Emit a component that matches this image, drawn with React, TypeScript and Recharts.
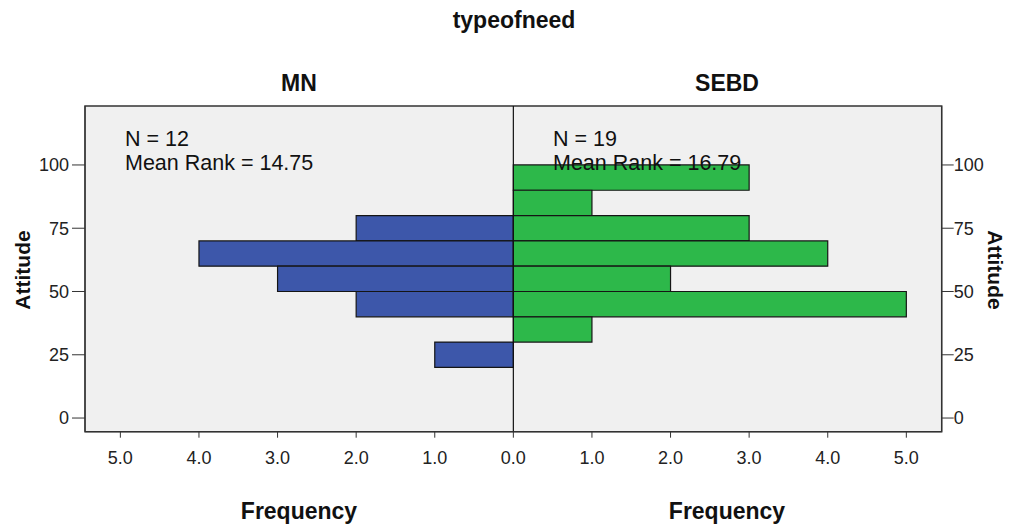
import React from 'react';
import { BarChart, Bar, XAxis, YAxis, ReferenceArea, ReferenceLine } from 'recharts';

const bins = [95, 85, 75, 65, 55, 45, 35, 25];
const mnCounts = [0, 0, 2, 4, 3, 2, 0, 1];
const sebdCounts = [3, 1, 3, 4, 2, 5, 1, 0];
const xTicks = [-5, -4, -3, -2, -1, 0, 1, 2, 3, 4, 5];
const yTicks = [0, 25, 50, 75, 100];
const groupNames = ['MN', 'SEBD'];
const groupN = [12, 19];
const groupMeanRank = ['14.75', '16.79'];
const title = 'typeofneed';
const xTitle = 'Frequency';
const yTitle = 'Attitude';

const data = bins.map((bin, i) => ({ bin, mn: -mnCounts[i], sebd: sebdCounts[i] }));

const X_DOMAIN: [number, number] = [-5.45, 5.45];
const Y_DOMAIN: [number, number] = [-5.4, 123.3];
const FONT = "'Liberation Sans', Arial, sans-serif";
const AXIS = '#333333';

export default function App() {
  const tickStyle = { fontSize: 18, fill: '#222', fontFamily: FONT };
  return (
    <div style={{ position: 'absolute', left: 0, top: 0, width: 1009, height: 527, background: '#fff' }}>
      <BarChart
        width={1009}
        height={527}
        data={data}
        layout="vertical"
        stackOffset="sign"
        margin={{ top: 106, left: 25, right: 7.3, bottom: 65.3 }}
      >
        <XAxis
          type="number"
          domain={X_DOMAIN}
          allowDataOverflow
          ticks={xTicks}
          interval={0}
          tickFormatter={(v: number) => Math.abs(v).toFixed(1)}
          tickSize={6}
          tickMargin={14}
          height={30}
          stroke={AXIS}
          tick={tickStyle}
        />
        <YAxis
          yAxisId="l"
          type="number"
          dataKey="bin"
          domain={Y_DOMAIN}
          allowDataOverflow
          reversed
          ticks={yTicks}
          interval={0}
          tickSize={13}
          tickMargin={3}
          width={60}
          stroke={AXIS}
          tick={tickStyle}
        />
        <YAxis
          yAxisId="r"
          orientation="right"
          type="number"
          dataKey="bin"
          domain={Y_DOMAIN}
          allowDataOverflow
          reversed
          ticks={yTicks}
          interval={0}
          tickSize={12}
          tickMargin={0}
          width={60}
          stroke={AXIS}
          tick={tickStyle}
        />
        <ReferenceArea
          yAxisId="l"
          x1={X_DOMAIN[0]}
          x2={X_DOMAIN[1]}
          y1={Y_DOMAIN[0]}
          y2={Y_DOMAIN[1]}
          fill="#F0F0F0"
          fillOpacity={1}
          stroke={AXIS}
          strokeWidth={1.5}
          ifOverflow="visible"
        />
        <Bar yAxisId="l" dataKey="mn" stackId="s" fill="#3D57AA" stroke="#151515" strokeWidth={1.2} barSize={25.3} isAnimationActive={false} />
        <Bar yAxisId="l" dataKey="sebd" stackId="s" fill="#2DB84A" stroke="#151515" strokeWidth={1.2} barSize={25.3} isAnimationActive={false} />
        <ReferenceLine yAxisId="l" x={0} stroke="#111" strokeWidth={1.2} ifOverflow="visible" />
      </BarChart>
      <svg width={1009} height={527} style={{ position: 'absolute', left: 0, top: 0, pointerEvents: 'none' }} fontFamily={FONT}>
        <text x={514} y={28} textAnchor="middle" fontSize={23} fontWeight="bold" fill="#111">{title}</text>
        <text x={299} y={91} textAnchor="middle" fontSize={23} fontWeight="bold" fill="#111">{groupNames[0]}</text>
        <text x={727} y={91} textAnchor="middle" fontSize={23} fontWeight="bold" fill="#111">{groupNames[1]}</text>
        <text x={125} y={146} fontSize={21.5} fill="#111">{`N = ${groupN[0]}`}</text>
        <text x={125} y={170} fontSize={21.5} fill="#111">{`Mean Rank = ${groupMeanRank[0]}`}</text>
        <text x={553} y={146} fontSize={21.5} fill="#111">{`N = ${groupN[1]}`}</text>
        <text x={553} y={170} fontSize={21.5} fill="#111">{`Mean Rank = ${groupMeanRank[1]}`}</text>
        <text x={299} y={519} textAnchor="middle" fontSize={23} fontWeight="bold" fill="#111">{xTitle}</text>
        <text x={727} y={519} textAnchor="middle" fontSize={23} fontWeight="bold" fill="#111">{xTitle}</text>
        <text x={0} y={0} transform="translate(30,270) rotate(-90)" textAnchor="middle" fontSize={21} fontWeight="bold" fill="#111">{yTitle}</text>
        <text x={0} y={0} transform="translate(988,270) rotate(90)" textAnchor="middle" fontSize={21} fontWeight="bold" fill="#111">{yTitle}</text>
      </svg>
    </div>
  );
}
